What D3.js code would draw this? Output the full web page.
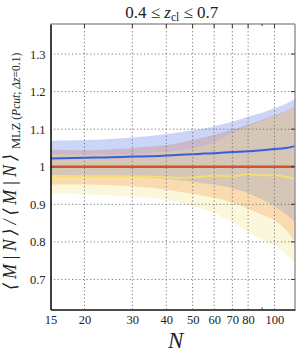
<!DOCTYPE html>
<html>
<head>
<meta charset="utf-8">
<script src="https://cdn.jsdelivr.net/npm/d3@7"></script>
<style>
  body { margin: 0; background: #fff; }
  text { font-family: "Liberation Serif", "DejaVu Serif", serif; fill: #222; }
</style>
</head>
<body>
<svg id="chart" width="305" height="356"></svg>
<script>
// richness N sampled along the curves
const nValues = [15, 20, 25, 30, 35, 40, 45, 50, 55, 60, 70, 80, 90, 100, 110, 119];

// blue series
const blueMid = [1.022, 1.024, 1.025, 1.027, 1.028, 1.030, 1.032, 1.033, 1.035, 1.036, 1.039, 1.041, 1.044, 1.047, 1.050, 1.055];
const blueLo  = [0.978, 0.977, 0.976, 0.974, 0.971, 0.968, 0.964, 0.960, 0.956, 0.952, 0.943, 0.930, 0.913, 0.895, 0.874, 0.853];
const blueHi  = [1.069, 1.071, 1.074, 1.078, 1.082, 1.087, 1.092, 1.097, 1.102, 1.108, 1.120, 1.133, 1.144, 1.156, 1.167, 1.181];

// red (reference) series
const redMid = [1, 1, 1, 1, 1, 1, 1, 1, 1, 1, 1, 1, 1, 1, 1, 1];
const redLo  = [0.953, 0.953, 0.951, 0.948, 0.944, 0.939, 0.933, 0.928, 0.923, 0.918, 0.904, 0.888, 0.872, 0.857, 0.832, 0.801];
const redHi  = [1.045, 1.044, 1.046, 1.050, 1.054, 1.058, 1.064, 1.071, 1.078, 1.085, 1.099, 1.112, 1.125, 1.137, 1.148, 1.160];

// yellow series
const yelMid = [0.975, 0.975, 0.975, 0.975, 0.974, 0.973, 0.970, 0.972, 0.974, 0.976, 0.975, 0.980, 0.977, 0.977, 0.973, 0.968];
const yelLo  = [0.929, 0.927, 0.924, 0.921, 0.917, 0.912, 0.904, 0.895, 0.886, 0.876, 0.851, 0.826, 0.806, 0.790, 0.768, 0.745];
const yelHi  = [1.033, 1.033, 1.033, 1.034, 1.037, 1.040, 1.044, 1.049, 1.057, 1.066, 1.090, 1.108, 1.122, 1.134, 1.146, 1.157];

const xTicks = [15, 20, 30, 40, 50, 60, 70, 80, 100];
const xMinor = [90];
const yTicks = [0.7, 0.8, 0.9, 1.0, 1.1, 1.2, 1.3];
const yTickLabels = ["0.7", "0.8", "0.9", "1", "1.1", "1.2", "1.3"];

const svg = d3.select("#chart");
const margin = { left: 50.5, right: 10, top: 24, bottom: 46.5 };
const width = 305 - margin.left - margin.right;
const height = 356 - margin.top - margin.bottom;

const x = d3.scaleLog().domain([15, 119]).range([0, width]);
const y = d3.scaleLinear().domain([0.62, 1.38]).range([height, 0]);

const g = svg.append("g").attr("transform", `translate(${margin.left},${margin.top})`);

g.append("clipPath").attr("id", "clip")
  .append("rect").attr("width", width).attr("height", height);

// drawn in this order: red under blue under yellow
const bands = [
  { lo: redLo, hi: redHi, color: "#ff7e3e", op: 0.32 },
  { lo: blueLo, hi: blueHi, color: "#4169e1", op: 0.28 },
  { lo: yelLo, hi: yelHi, color: "#f0e68c", op: 0.32 }
];

const area = d3.area()
  .x(d => x(d.n))
  .y0(d => y(d.lo))
  .y1(d => y(d.hi))
  .curve(d3.curveMonotoneX);

const plot = g.append("g").attr("clip-path", "url(#clip)");

plot.selectAll("path.band")
  .data(bands)
  .join("path")
  .attr("class", "band")
  .attr("d", b => area(nValues.map((n, i) => ({ n, lo: b.lo[i], hi: b.hi[i] }))))
  .attr("fill", b => b.color)
  .attr("fill-opacity", b => b.op);

// dotted grid on top of the bands
const grid = g.append("g").attr("stroke", "#777").attr("stroke-width", 1).attr("stroke-dasharray", "1.2,2.4");
grid.selectAll("line.gx")
  .data(xTicks.slice(1))
  .join("line")
  .attr("x1", d => x(d)).attr("x2", d => x(d))
  .attr("y1", 0).attr("y2", height);
grid.selectAll("line.gy")
  .data(yTicks)
  .join("line")
  .attr("x1", 0).attr("x2", width)
  .attr("y1", d => y(d)).attr("y2", d => y(d));

const line = d3.line().x(d => x(d.n)).y(d => y(d.v)).curve(d3.curveMonotoneX);

const lines = [
  { v: yelMid, color: "#f2e070", w: 1.8 },
  { v: blueMid, color: "#3160e0", w: 2 },
  { v: redMid, color: "#f04a14", w: 2.6 }
];

plot.selectAll("path.line")
  .data(lines)
  .join("path")
  .attr("class", "line")
  .attr("d", s => line(nValues.map((n, i) => ({ n, v: s.v[i] }))))
  .attr("fill", "none")
  .attr("stroke", s => s.color)
  .attr("stroke-width", s => s.w);

// spines: top/right light, bottom/left dark
g.append("line").attr("x1", 0).attr("x2", width).attr("y1", 0).attr("y2", 0)
  .attr("stroke", "#999").attr("stroke-width", 1.5);
g.append("line").attr("x1", width).attr("x2", width).attr("y1", 0).attr("y2", height)
  .attr("stroke", "#999").attr("stroke-width", 1.5);

// inward ticks on top and right
const ticks = g.append("g").attr("stroke", "#333").attr("stroke-width", 1);
ticks.selectAll("line.tt")
  .data(xTicks.slice(1))
  .join("line")
  .attr("x1", d => x(d)).attr("x2", d => x(d))
  .attr("y1", 0).attr("y2", 4);
ticks.selectAll("line.tm")
  .data(xMinor)
  .join("line")
  .attr("x1", d => x(d)).attr("x2", d => x(d))
  .attr("y1", 0).attr("y2", 2);
ticks.selectAll("line.tmb")
  .data(xMinor)
  .join("line")
  .attr("x1", d => x(d)).attr("x2", d => x(d))
  .attr("y1", height).attr("y2", height - 2);
ticks.selectAll("line.tr")
  .data(yTicks)
  .join("line")
  .attr("x1", width).attr("x2", width - 4)
  .attr("y1", d => y(d)).attr("y2", d => y(d));

const xAxis = g.append("g")
  .attr("transform", `translate(0,${height})`)
  .call(d3.axisBottom(x).tickValues(xTicks).tickFormat(d3.format("d")).tickSize(0).tickPadding(6));
xAxis.attr("font-family", null);
xAxis.select(".domain").attr("stroke", "#111").attr("stroke-width", 1.6);
xAxis.selectAll("text").attr("font-size", 12.5).attr("fill", "#222");

const yAxis = g.append("g")
  .call(d3.axisLeft(y).tickValues(yTicks).tickFormat((d, i) => yTickLabels[i]).tickSize(0).tickPadding(5));
yAxis.attr("font-family", null);
yAxis.select(".domain").attr("stroke", "#111").attr("stroke-width", 1.6);
yAxis.selectAll("text").attr("font-size", 12.5).attr("fill", "#222");

// title
const title = svg.append("text")
  .attr("x", margin.left + width / 2 - 1)
  .attr("y", 18)
  .attr("text-anchor", "middle")
  .attr("font-size", 17);
title.append("tspan").text("0.4 ≤ ");
title.append("tspan").attr("font-style", "italic").text("z");
title.append("tspan").attr("font-size", 11.5).attr("dy", 3).text("cl");
title.append("tspan").attr("dy", -3).text(" ≤ 0.7");

// x label
svg.append("text")
  .attr("x", margin.left + width / 2 + 3)
  .attr("y", 348)
  .attr("text-anchor", "middle")
  .attr("font-size", 23)
  .attr("font-style", "italic")
  .text("N");

// y label, reads bottom to top
const ylab = svg.append("text")
  .attr("transform", "translate(16,290) rotate(-90)")
  .attr("text-anchor", "start")
  .attr("font-size", 18);
ylab.append("tspan").attr("font-style", "italic")
  .attr("textLength", 136).attr("lengthAdjust", "spacing")
  .text("⟨M|N⟩/⟨M|N⟩");
ylab.append("tspan").attr("font-size", 12.5).attr("dy", 4).attr("dx", 1).text("MLZ");
ylab.append("tspan").attr("font-size", 11.5).attr("dx", 3).text("(");
ylab.append("tspan").attr("font-size", 11.5).attr("font-style", "italic").text("Pcut");
ylab.append("tspan").attr("font-size", 11.5).text("; ");
ylab.append("tspan").attr("font-size", 11.5).attr("font-style", "italic").text("Δz");
ylab.append("tspan").attr("font-size", 11.5).text("=0.1)");
</script>
</body>
</html>
